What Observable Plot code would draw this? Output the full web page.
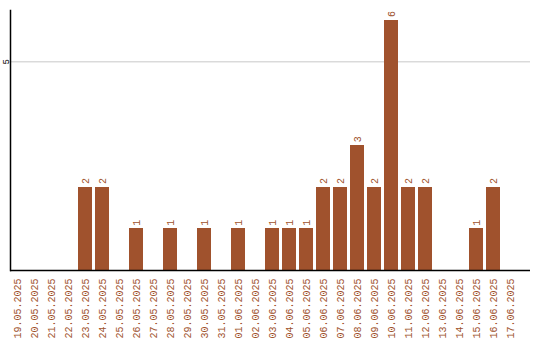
<!DOCTYPE html>
<html>
<head>
<meta charset="utf-8">
<script src="https://cdn.jsdelivr.net/npm/d3@7"></script>
<script src="https://cdn.jsdelivr.net/npm/@observablehq/plot@0.6"></script>
<style>
  html, body { margin: 0; padding: 0; background: #fff; }
  svg { -webkit-font-smoothing: none; }
</style>
</head>
<body>
<div id="chart"></div>
<script>
const dates = ["19.05.2025","20.05.2025","21.05.2025","22.05.2025","23.05.2025","24.05.2025","25.05.2025","26.05.2025","27.05.2025","28.05.2025","29.05.2025","30.05.2025","31.05.2025","01.06.2025","02.06.2025","03.06.2025","04.06.2025","05.06.2025","06.06.2025","07.06.2025","08.06.2025","09.06.2025","10.06.2025","11.06.2025","12.06.2025","13.06.2025","14.06.2025","15.06.2025","16.06.2025","17.06.2025"];
const counts = [0,0,0,0,2,2,0,1,0,1,0,1,0,1,0,1,1,1,2,2,3,2,6,2,2,0,0,1,2,0];
const yTicks = [5];

const data = dates.map((d, i) => ({date: d, count: counts[i]}));
const nonZero = data.filter(d => d.count > 0);
const barColor = "#a0522d";
const font = "'Liberation Mono', 'DejaVu Sans Mono', monospace";

const chart = Plot.plot({
  width: 540,
  height: 340,
  marginLeft: 10,
  marginRight: 10,
  marginTop: 10,
  marginBottom: 70,
  style: {fontFamily: font, fontSize: "10px", background: "#fff"},
  x: {type: "band", domain: dates, range: [10, 517], paddingInner: 3/17, paddingOuter: 0, align: 0, label: null},
  y: {domain: [0, 6.23], range: [270, 10], label: null},
  marks: [
    Plot.gridY(yTicks, {stroke: "#c8c8c8", strokeOpacity: 1}),
    Plot.barY(data, {x: "date", y: "count", fill: barColor, shapeRendering: "crispEdges"}),
    Plot.text(nonZero, {x: "date", y: "count", text: d => String(d.count), rotate: -90, textAnchor: "start", dy: -3, fill: barColor, fontSize: 10}),
    Plot.axisX({tickRotate: -90, tickSize: 0, tickPadding: 8, fill: barColor, fontSize: 10, label: null}),
    Plot.axisY(yTicks, {tickRotate: -90, tickSize: 0, tickPadding: 0, fill: "#000", fontSize: 9, label: null, dx: -2}),
    Plot.frame({anchor: "left", stroke: "#000", strokeWidth: 1.5}),
    Plot.ruleY([0], {stroke: "#000", strokeWidth: 1.5})
  ]
});
document.getElementById("chart").appendChild(chart);
</script>
</body>
</html>
